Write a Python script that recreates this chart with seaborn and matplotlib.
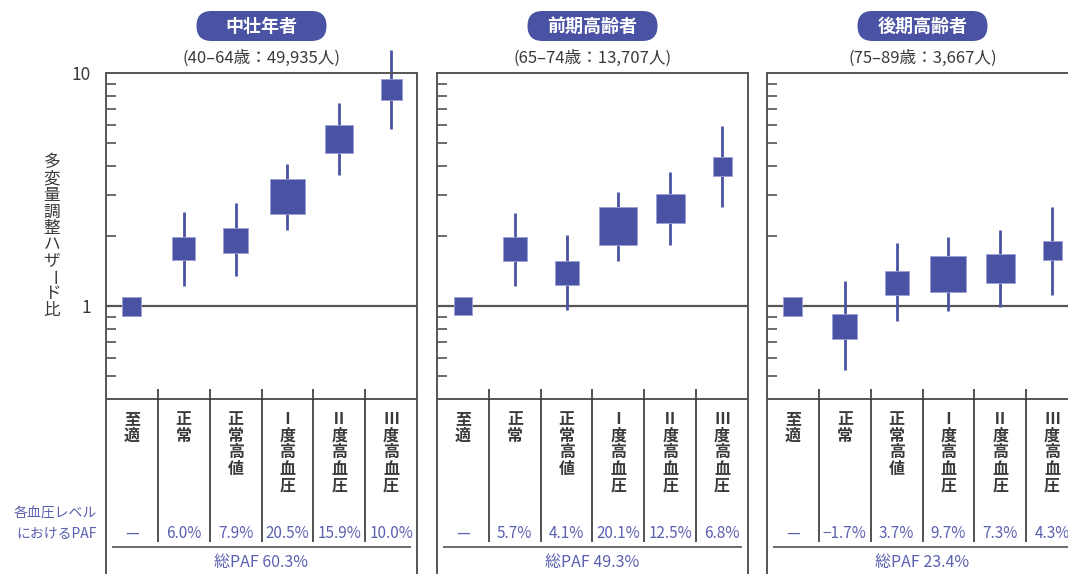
import numpy as np
import pandas as pd
import matplotlib
matplotlib.use("Agg")
import matplotlib.pyplot as plt
import seaborn as sns
from matplotlib.patches import FancyBboxPatch
from matplotlib.ticker import FixedLocator, FixedFormatter, NullFormatter

# ---------------- data ----------------
categories = ["至適", "正常", "正常高値", "Ⅰ度高血圧", "Ⅱ度高血圧", "Ⅲ度高血圧"]
groups = ["中壮年者", "前期高齢者", "後期高齢者"]
subtitles = ["(40–64歳：49,935人)", "(65–74歳：13,707人)", "(75–89歳：3,667人)"]

hr_middle = [1.00, 1.76, 1.92, 2.96, 5.21, 8.50]
lo_middle = [np.nan, 1.22, 1.35, 2.13, 3.66, 5.73]
hi_middle = [np.nan, 2.53, 2.76, 4.07, 7.43, 12.6]
w_middle = [19, 23, 25, 35, 28, 21]

hr_early = [1.00, 1.76, 1.39, 2.20, 2.63, 3.98]
lo_early = [np.nan, 1.22, 0.96, 1.57, 1.83, 2.66]
hi_early = [np.nan, 2.52, 2.01, 3.09, 3.77, 5.94]
w_early = [18, 24, 24, 38, 29, 19]

hr_late = [1.00, 0.82, 1.26, 1.38, 1.45, 1.73]
lo_late = [np.nan, 0.53, 0.86, 0.95, 0.99, 1.12]
hi_late = [np.nan, 1.28, 1.87, 1.99, 2.12, 2.65]
w_late = [19, 25, 24, 36, 29, 19]

paf_middle = ["—", "6.0%", "7.9%", "20.5%", "15.9%", "10.0%"]
paf_early = ["—", "5.7%", "4.1%", "20.1%", "12.5%", "6.8%"]
paf_late = ["—", "−1.7%", "3.7%", "9.7%", "7.3%", "4.3%"]
total_paf = ["総PAF 60.3%", "総PAF 49.3%", "総PAF 23.4%"]

ylabel = "多変量調整ハザード比"
paf_label = ["各血圧レベル", "におけるPAF"]

panels = [
    (hr_middle, lo_middle, hi_middle, w_middle, paf_middle),
    (hr_early, lo_early, hi_early, w_early, paf_early),
    (hr_late, lo_late, hi_late, w_late, paf_late),
]

# ---------------- style ----------------
sns.set_theme(style="white")
plt.rcParams["font.family"] = ["Noto Sans CJK JP", "DejaVu Sans"]

BLUE = "#4a53a3"
PAFC = "#5a60b0"
FRAME = "#555555"
TXT = "#3a3a3a"

W, H = 1068, 574
fig = plt.figure(figsize=(W / 100, H / 100), dpi=100)
fig.patch.set_facecolor("white")

x0s = [106, 437, 767]
PW = 311
TOP, BOT = 73, 399

def fx(px):
    return px / W

def fy(py):
    return 1 - py / H

for i, (hr, lo, hi, w, paf) in enumerate(panels):
    x0 = x0s[i]
    ax = fig.add_axes([fx(x0), fy(BOT), PW / W, (BOT - TOP) / H])
    tab = fig.add_axes([fx(x0), 0, PW / W, (H - BOT) / H])

    df = pd.DataFrame({"pos": np.arange(len(categories)), "hr": hr,
                       "lo": lo, "hi": hi, "w": w})
    ax.set_yscale("log")
    ax.axhline(1, color=FRAME, lw=1.6, zorder=1)
    ax.vlines(df["pos"], df["lo"], df["hi"], color=BLUE, lw=2.0,
              zorder=2, clip_on=False)
    sns.scatterplot(data=df, x="pos", y="hr", size="w",
                    sizes={v: (v * 0.72) ** 2 for v in set(w)},
                    marker="s", color=BLUE, edgecolor="#9aa0d4",
                    linewidth=0.6, legend=False, ax=ax, zorder=3,
                    clip_on=False)
    ax.set_xlim(-0.5, len(categories) - 0.5)
    ax.set_ylim(0.4, 10)
    ax.set_xlabel("")
    ax.set_ylabel("")
    ax.set_facecolor("white")

    ax.yaxis.set_major_locator(FixedLocator([1, 10]))
    if i == 0:
        ax.yaxis.set_major_formatter(FixedFormatter(["1", "10"]))
    else:
        ax.yaxis.set_major_formatter(NullFormatter())
    ax.yaxis.set_minor_locator(FixedLocator([0.5, 0.6, 0.7, 0.8, 0.9,
                                             2, 3, 4, 5, 6, 7, 8, 9]))
    ax.yaxis.set_minor_formatter(NullFormatter())
    ax.tick_params(axis="y", which="major", length=0, pad=11,
                   labelsize=12.5, labelcolor=TXT)
    ax.tick_params(axis="y", which="minor", direction="in", length=7,
                   width=1.1, color="#444444", left=True, right=False)
    ax.xaxis.set_major_locator(FixedLocator([]))
    ax.xaxis.set_minor_locator(FixedLocator(np.arange(0.5, len(categories) - 1, 1)))
    ax.xaxis.set_minor_formatter(NullFormatter())
    ax.tick_params(axis="x", which="minor", direction="in", length=7,
                   width=1.1, color="#222222", bottom=True, top=False)
    for s in ax.spines.values():
        s.set_color(FRAME)
        s.set_linewidth(1.4)
        s.set_visible(True)

    # table area
    tab.set_xlim(-0.5, len(categories) - 0.5)
    tab.set_ylim(H - BOT, 0)
    tab.set_xticks([])
    tab.set_yticks([])
    tab.set_facecolor("none")
    for side in ["top", "bottom"]:
        tab.spines[side].set_visible(False)
    for side in ["left", "right"]:
        tab.spines[side].set_color(FRAME)
        tab.spines[side].set_linewidth(1.4)
    tab.vlines(np.arange(0.5, len(categories) - 1, 1), 0, 143,
               color="#222222", lw=1.1)
    tab.hlines(148, -0.385, len(categories) - 0.5 - 0.11, color="#444444", lw=1.1)
    for j, cat in enumerate(categories):
        for k, ch in enumerate(cat):
            tab.text(j, 20 + k * 16.6, ch, ha="center", va="center",
                     fontsize=11.5, fontweight="bold", color=TXT)
        tab.text(j, 134, paf[j], ha="center", va="center", fontsize=11,
                 color=PAFC)
    tab.text(2.5, 164, total_paf[i], ha="center", va="center",
             fontsize=11.5, color=PAFC)

    # title pill and subtitle
    cx = x0 + PW / 2
    pill = FancyBboxPatch(((cx - 65) / 100, (H - 41) / 100), 1.30, 0.30,
                          boxstyle="round,pad=0,rounding_size=0.15",
                          transform=fig.dpi_scale_trans, facecolor=BLUE,
                          edgecolor="none")
    fig.patches.append(pill)
    fig.text(fx(cx), fy(26), groups[i], ha="center", va="center",
             fontsize=13, fontweight="bold", color="white")
    fig.text(fx(cx), fy(58), subtitles[i], ha="center", va="center",
             fontsize=12, color=TXT)

# y label, stacked vertically
for k, ch in enumerate(ylabel):
    rot = -90 if ch == "ー" else 0
    fig.text(fx(52), fy(162.7 + k * 16.4), ch, ha="center", va="center",
             fontsize=12, color=TXT, rotation=rot)

fig.text(fx(97), fy(514), paf_label[0], ha="right", va="center",
         fontsize=10, color=PAFC)
fig.text(fx(97), fy(533), paf_label[1], ha="right", va="center",
         fontsize=10, color=PAFC)

fig.savefig("out.png", dpi=100, facecolor="white")
